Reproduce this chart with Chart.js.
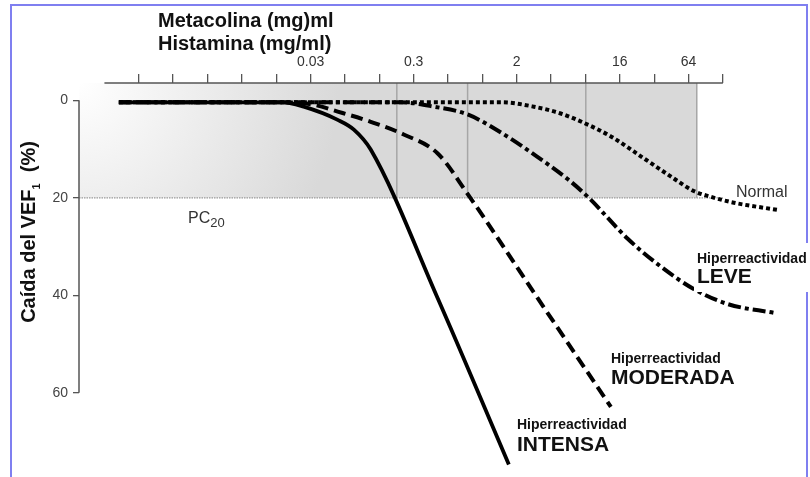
<!DOCTYPE html>
<html>
<head>
<meta charset="utf-8">
<script src="https://cdn.jsdelivr.net/npm/chart.js@4.4.1/dist/chart.umd.min.js"></script>
<style>
    html, body { margin: 0; padding: 0; background: #fff; }
    #wrap { width: 810px; height: 477px; }
</style>
</head>
<body>
<div id="wrap"><canvas id="myChart" width="810" height="477"></canvas></div>
<script>
    // top axis: one tick per dose step, only some are labelled
    let tickPos = [0, 1, 2, 3, 4, 5, 6, 7, 8, 9, 10, 11, 12, 13, 14, 15, 16, 17];
    let tickLabels = ['', '', '', '', '', '0.03', '', '', '0.3', '', '', '2', '', '', '16', '', '64', ''];
    let yTicks = [0, 20, 40, 60];

    let axisStart = -1;
    let axisEnd = 17;
    let pc20 = 20;
    let pc20Lines = [7.51, 9.57, 13.01, 16.24]; // where each curve reaches PC20

    // curves (x = dose step, y = fall of FEV1 %)
    let intensaX = [-0.58, 4.22, 4.8, 5.79, 6.26, 6.75, 8.7, 10.77];
    let intensaY = [0.4, 0.4, 1.3, 4.0, 6.0, 10.1, 40.6, 74.7];

    let moderadaX = [-0.58, 4.22, 5.09, 5.79, 6.75, 7.71, 8.7, 9.57, 11.61, 13.74];
    let moderadaY = [0.4, 0.4, 0.9, 2.3, 4.4, 7.0, 10.9, 19.2, 40.6, 62.9];

    let leveX = [-0.58, 7.62, 8.59, 9.57, 10.54, 11.5, 12.49, 13.07, 14.23, 15.19, 16.15, 17.14, 18.48];
    let leveY = [0.4, 0.4, 1.3, 2.9, 6.6, 11.1, 16.2, 19.8, 28.4, 34.1, 38.7, 41.8, 43.6];

    let normalX = [-0.58, 10.54, 11.5, 12.28, 13.01, 13.74, 14.7, 15.48, 16.15, 16.65, 17.32, 18.6];
    let normalY = [0.4, 0.4, 1.3, 2.7, 4.8, 7.4, 11.9, 15.6, 18.6, 19.8, 21.0, 22.5];

    let xMin = -1.74, xMax = 19.39;
    let yMin = -3.56, yMax = 74.54;

    let fontFam = '"Liberation Sans", Arial, sans-serif';

    function pts(xs, ys) {
        return xs.map((x, i) => ({x: x, y: ys[i]}));
    }

    function curve(xs, ys, dash, width) {
        return {
            data: pts(xs, ys),
            borderColor: '#000',
            borderWidth: width,
            borderDash: dash,
            borderCapStyle: 'butt',
            pointRadius: 0,
            cubicInterpolationMode: 'monotone',
            fill: false,
            clip: false
        };
    }

    let background = {
        id: 'background',
        beforeDraw(chart) {
            let c = chart.ctx;
            let xs = chart.scales.x, ys = chart.scales.y;
            let left = chart.chartArea.left, top = chart.chartArea.top;
            let right = xs.getPixelForValue(pc20Lines[pc20Lines.length - 1]);
            let bottom = ys.getPixelForValue(pc20);
            c.save();
            c.fillStyle = '#fff';
            c.fillRect(0, 0, chart.width, chart.height);

            // grey PC20 band
            let g = c.createRadialGradient(left, top, 0, left, top, 260);
            g.addColorStop(0, '#ffffff');
            g.addColorStop(1, '#d9d9d9');
            c.fillStyle = g;
            c.fillRect(left, top, right - left, bottom - top);

            c.strokeStyle = '#a6a6a6';
            c.lineWidth = 1.5;
            pc20Lines.forEach(v => {
                let px = xs.getPixelForValue(v);
                c.beginPath();
                c.moveTo(px, top);
                c.lineTo(px, bottom);
                c.stroke();
            });

            c.strokeStyle = '#999';
            c.lineWidth = 1.3;
            c.setLineDash([1.5, 1]);
            c.beginPath();
            c.moveTo(left, bottom);
            c.lineTo(xs.getPixelForValue(axisEnd), bottom);
            c.stroke();
            c.setLineDash([]);

            // axis lines
            c.strokeStyle = '#555';
            c.lineWidth = 1.5;
            c.beginPath();
            c.moveTo(xs.getPixelForValue(axisStart), top);
            c.lineTo(xs.getPixelForValue(axisEnd), top);
            c.stroke();
            c.beginPath();
            c.moveTo(left, ys.getPixelForValue(yTicks[0]));
            c.lineTo(left, ys.getPixelForValue(yTicks[yTicks.length - 1]));
            c.stroke();
            c.restore();
        }
    };

    function txt(c, s, x, y, font, color) {
        c.font = font;
        c.fillStyle = color;
        c.fillText(s, x, y);
        return c.measureText(s).width;
    }

    let labels = {
        id: 'labels',
        afterDraw(chart) {
            let c = chart.ctx;
            c.save();
            c.textBaseline = 'alphabetic';
            c.textAlign = 'left';

            // frame
            c.strokeStyle = '#7f7ff0';
            c.lineWidth = 2;
            c.beginPath();
            c.moveTo(11, 477);
            c.lineTo(11, 5);
            c.lineTo(807, 5);
            c.lineTo(807, 477);
            c.stroke();
            c.fillStyle = '#fff';
            c.fillRect(694, 243, 116, 49);

            // axis titles
            txt(c, 'Metacolina (mg)ml', 158, 27, 'bold 20px ' + fontFam, '#111');
            txt(c, 'Histamina (mg/ml)', 158, 50, 'bold 20px ' + fontFam, '#111');

            c.save();
            c.translate(28, 232);
            c.rotate(-Math.PI / 2);
            c.font = 'bold 20px ' + fontFam;
            let w1 = c.measureText('Caída del VEF').width;
            let w3 = c.measureText('  (%)').width;
            c.font = 'bold 11px ' + fontFam;
            let w2 = c.measureText('1').width;
            let x0 = -(w1 + w2 + w3) / 2;
            txt(c, 'Caída del VEF', x0, 7, 'bold 20px ' + fontFam, '#111');
            txt(c, '1', x0 + w1, 12, 'bold 11px ' + fontFam, '#111');
            txt(c, '  (%)', x0 + w1 + w2, 7, 'bold 20px ' + fontFam, '#111');
            c.restore();

            let w = txt(c, 'PC', 188, 223, '16px ' + fontFam, '#333');
            txt(c, '20', 188 + w, 227, '13px ' + fontFam, '#333');

            txt(c, 'Normal', 736, 197, '16px ' + fontFam, '#333');

            txt(c, 'Hiperreactividad', 697, 263, 'bold 14px ' + fontFam, '#111');
            txt(c, 'LEVE', 697, 283, 'bold 21px ' + fontFam, '#111');
            txt(c, 'Hiperreactividad', 611, 363, 'bold 14px ' + fontFam, '#111');
            txt(c, 'MODERADA', 611, 384, 'bold 21px ' + fontFam, '#111');
            txt(c, 'Hiperreactividad', 517, 429, 'bold 14px ' + fontFam, '#111');
            txt(c, 'INTENSA', 517, 451, 'bold 21px ' + fontFam, '#111');
            c.restore();
        }
    };

    let chart = new Chart('myChart', {
        type: 'line',
        data: {
            datasets: [
                curve(intensaX, intensaY, [], 3.8),
                curve(moderadaX, moderadaY, [12, 6], 4),
                curve(leveX, leveY, [13, 4, 4, 4], 4),
                curve(normalX, normalY, [4, 3], 4)
            ]
        },
        options: {
            responsive: false,
            animation: false,
            events: [],
            layout: {padding: {left: 0, right: 5, top: 0, bottom: 10}},
            plugins: {legend: {display: false}, tooltip: {enabled: false}},
            scales: {
                x: {
                    type: 'linear',
                    position: 'top',
                    min: xMin,
                    max: xMax,
                    afterFit: s => { s.height = 83; },
                    afterBuildTicks: s => { s.ticks = tickPos.map(v => ({value: v})); },
                    border: {display: false},
                    grid: {drawOnChartArea: false, tickLength: 9, color: '#555', lineWidth: 1.3},
                    ticks: {
                        callback: v => tickLabels[tickPos.indexOf(v)],
                        autoSkip: false,
                        maxRotation: 0,
                        padding: 3,
                        color: '#333',
                        font: {family: fontFam, size: 14}
                    }
                },
                y: {
                    type: 'linear',
                    reverse: true,
                    min: yMin,
                    max: yMax,
                    afterFit: s => { s.width = 79; },
                    afterBuildTicks: s => { s.ticks = yTicks.map(v => ({value: v})); },
                    border: {display: false},
                    grid: {drawOnChartArea: false, tickLength: 6, color: '#555', lineWidth: 1.3},
                    ticks: {
                        padding: 5,
                        color: '#444',
                        font: {family: fontFam, size: 14}
                    }
                }
            }
        },
        plugins: [background, labels]
    });
</script>
</body>
</html>
